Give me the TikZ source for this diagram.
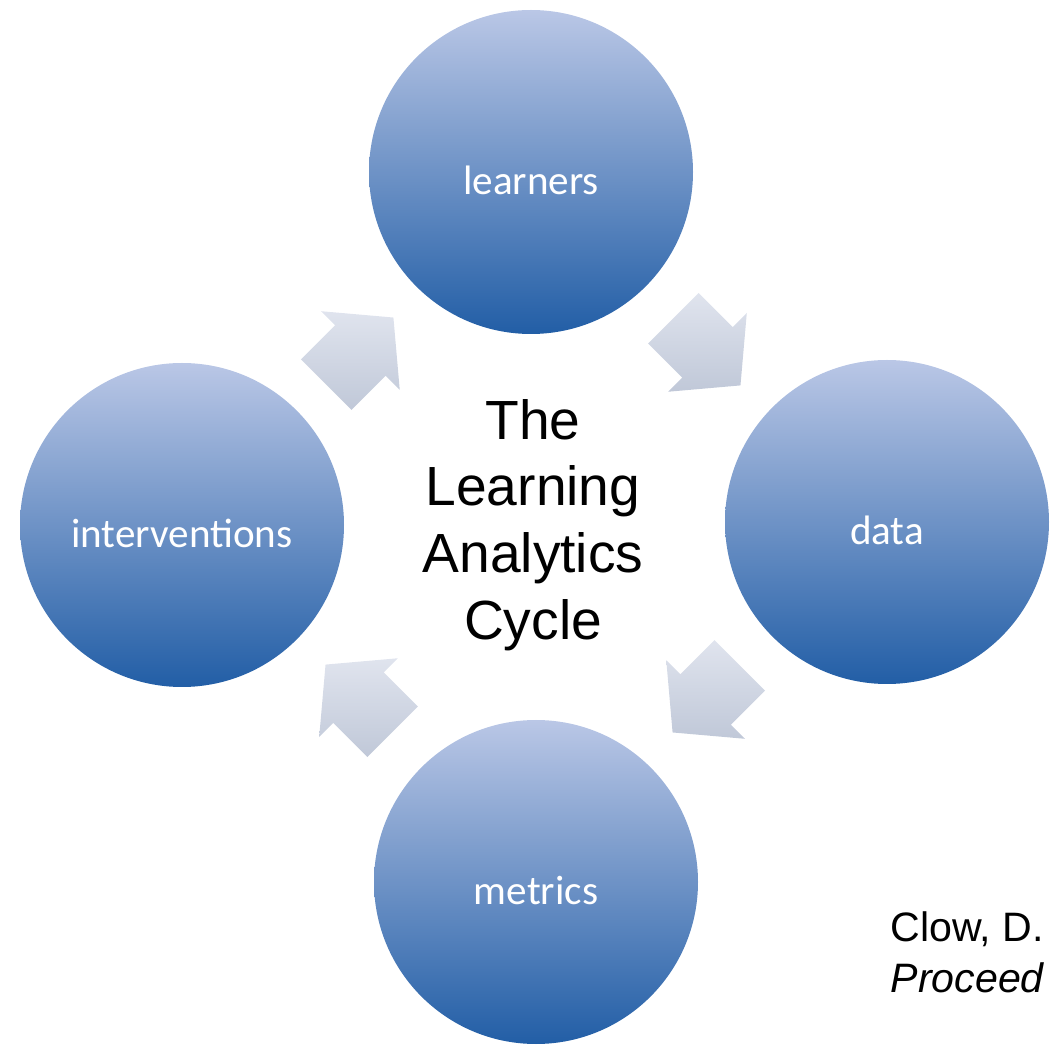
\documentclass[tikz,border=0pt]{standalone}
\usepackage{fontspec}
\setmainfont{Liberation Sans}
\newfontfamily\calibri{Carlito}
\usetikzlibrary{positioning, shapes.arrows}
\definecolor{circtop}{RGB}{186,199,230}
\definecolor{circbot}{RGB}{34,94,166}
\definecolor{arrtop}{RGB}{224,228,238}
\definecolor{arrbot}{RGB}{192,200,216}

\begin{document}
\begin{tikzpicture}[
    stage/.style={circle, minimum size=3.24cm, inner sep=0pt, text height=0.45cm, text depth=0pt, top color=circtop, bottom color=circbot, text=white, font=\calibri\fontsize{11.7}{14}\selectfont},
    flow/.style={single arrow, minimum height=0.95cm, inner xsep=0pt, inner ysep=0.35cm, single arrow head extend=0.2cm, single arrow tip angle=100, top color=arrtop, bottom color=arrbot},
    cite/.style={font=\fontsize{11.7}{14}\selectfont, inner sep=0pt, anchor=base west}
]
\path[use as bounding box, clip] (0,0) rectangle (10.5,10.5);

% Title in the middle
\node[align=center, font=\fontsize{15.7}{19}\selectfont] (cycle) at (5.33,5.25) {The\\Learning\\Analytics\\Cycle};

% Stages of the cycle
\node[stage] (learners) at (5.31,8.78) {learners};
\node[stage] (data) at (8.87,5.28) {data};
\node[stage] (metrics) at (5.36,1.68) {metrics};
\node[stage] (interventions) at (1.82,5.25) {interventions};

% Block arrows, clockwise
\foreach \a/\r/\n in {135/45/1, 45/-45/2, -45/-135/3, -135/135/4}{
  \path (cycle.center) ++(\a+11:2.5) node[flow, rotate=\r, anchor=tail] (flow\n) {};
}

% Reference
\node[cite] (cite1) at (8.90,1.08) {Clow, D.};
\node[cite] (cite2) at ([yshift=-0.51cm]cite1.base west) {\textit{Proceed}};

\end{tikzpicture}
\end{document}
